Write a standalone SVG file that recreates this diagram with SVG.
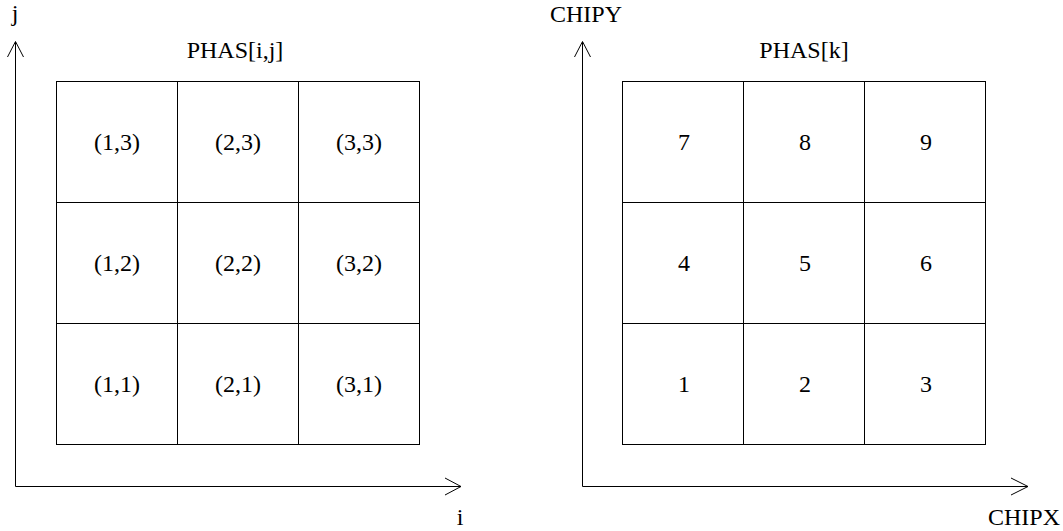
<svg xmlns="http://www.w3.org/2000/svg" width="1063" height="531" viewBox="0 0 1063 531">
<style>
text{font-family:"Liberation Serif","Times New Roman",serif;font-size:24px;fill:#000}
.c{text-anchor:middle}
.cell{fill:#fff;stroke:#000;stroke-width:1}
.ax{fill:none;stroke:#000;stroke-width:1}
</style>
<rect width="1063" height="531" fill="#fff"/>
<g id="connectors">
<path class="ax" d="M15.5,42 V486.5 H461"/>
<path class="ax" d="M7.5,57 L15.5,41.5 L23.5,57"/>
<path class="ax" d="M445,478 L461,486.5 L445,495"/>
<path class="ax" d="M582.5,42 V486.5 H1028"/>
<path class="ax" d="M574.5,57 L582.5,41.5 L590.5,57"/>
<path class="ax" d="M1011,478 L1028,486.5 L1011,495"/>
</g>
<g id="axis-labels">
<text x="15" y="21" class="c">j</text>
<text x="460" y="525" class="c">i</text>
<text x="550" y="22">CHIPY</text>
<text x="988" y="525">CHIPX</text>
<text x="235" y="58" class="c">PHAS[i,j]</text>
<text x="804" y="58" class="c">PHAS[k]</text>
</g>
<g id="left-grid">
<g id="c13"><rect class="cell" x="56.5" y="81.5" width="121" height="121"/><text x="117" y="150" class="c">(1,3)</text></g>
<g id="c23"><rect class="cell" x="177.5" y="81.5" width="121" height="121"/><text x="238" y="150" class="c">(2,3)</text></g>
<g id="c33"><rect class="cell" x="298.5" y="81.5" width="121" height="121"/><text x="359" y="150" class="c">(3,3)</text></g>
<g id="c12"><rect class="cell" x="56.5" y="202.5" width="121" height="121"/><text x="117" y="271" class="c">(1,2)</text></g>
<g id="c22"><rect class="cell" x="177.5" y="202.5" width="121" height="121"/><text x="238" y="271" class="c">(2,2)</text></g>
<g id="c32"><rect class="cell" x="298.5" y="202.5" width="121" height="121"/><text x="359" y="271" class="c">(3,2)</text></g>
<g id="c11"><rect class="cell" x="56.5" y="323.5" width="121" height="121"/><text x="117" y="392" class="c">(1,1)</text></g>
<g id="c21"><rect class="cell" x="177.5" y="323.5" width="121" height="121"/><text x="238" y="392" class="c">(2,1)</text></g>
<g id="c31"><rect class="cell" x="298.5" y="323.5" width="121" height="121"/><text x="359" y="392" class="c">(3,1)</text></g>
</g>
<g id="right-grid">
<g id="k7"><rect class="cell" x="622.5" y="81.5" width="121" height="121"/><text x="684" y="150" class="c">7</text></g>
<g id="k8"><rect class="cell" x="743.5" y="81.5" width="121" height="121"/><text x="805" y="150" class="c">8</text></g>
<g id="k9"><rect class="cell" x="864.5" y="81.5" width="121" height="121"/><text x="926" y="150" class="c">9</text></g>
<g id="k4"><rect class="cell" x="622.5" y="202.5" width="121" height="121"/><text x="684" y="271" class="c">4</text></g>
<g id="k5"><rect class="cell" x="743.5" y="202.5" width="121" height="121"/><text x="805" y="271" class="c">5</text></g>
<g id="k6"><rect class="cell" x="864.5" y="202.5" width="121" height="121"/><text x="926" y="271" class="c">6</text></g>
<g id="k1"><rect class="cell" x="622.5" y="323.5" width="121" height="121"/><text x="684" y="392" class="c">1</text></g>
<g id="k2"><rect class="cell" x="743.5" y="323.5" width="121" height="121"/><text x="805" y="392" class="c">2</text></g>
<g id="k3"><rect class="cell" x="864.5" y="323.5" width="121" height="121"/><text x="926" y="392" class="c">3</text></g>
</g>
</svg>
